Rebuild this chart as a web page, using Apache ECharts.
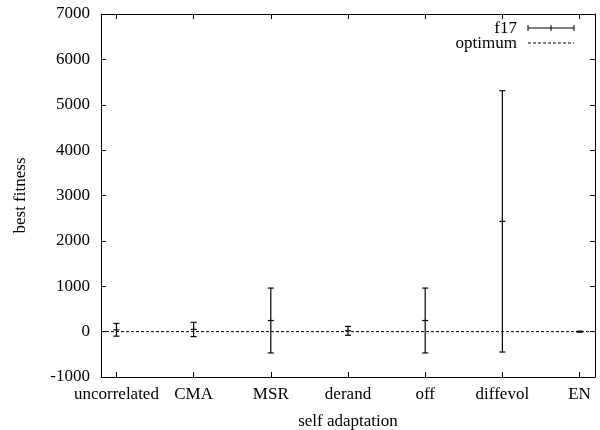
<!DOCTYPE html>
<html>
<head>
<meta charset="utf-8">
<script src="https://cdn.jsdelivr.net/npm/echarts@6/dist/echarts.min.js"></script>
<style>
  html, body { margin: 0; padding: 0; background: #fff; }
  #chart { width: 600px; height: 430px; }
</style>
</head>
<body>
<div id="chart"></div>
<script>
// values
var categories = ['uncorrelated', 'CMA', 'MSR', 'derand', 'off', 'diffevol', 'EN'];
var means = [40, 50, 245, 20, 245, 2430, 0];
var lows = [-100, -110, -470, -80, -470, -450, -10];
var highs = [180, 205, 960, 115, 960, 5310, 10];
var optimum = 0;
var positions = [1, 2, 3, 4, 5, 6, 7];

var font = '"Liberation Serif", "DejaVu Serif", serif';
var fs = 17;

var barData = [];
for (var i = 0; i < categories.length; i++) {
    barData.push([positions[i], lows[i], highs[i], means[i]]);
}

var chart = echarts.init(document.getElementById('chart'));

function errorBar(params, api) {
    var x = api.value(0);
    var lo = api.coord([x, api.value(1)]);
    var hi = api.coord([x, api.value(2)]);
    var mid = api.coord([x, api.value(3)]);
    var w = 3;
    var st = { stroke: '#000', lineWidth: 1.2 };
    return {
        type: 'group',
        children: [
            { type: 'line', shape: { x1: lo[0], y1: lo[1], x2: hi[0], y2: hi[1] }, style: st },
            { type: 'line', shape: { x1: lo[0] - w, y1: lo[1], x2: lo[0] + w, y2: lo[1] }, style: st },
            { type: 'line', shape: { x1: hi[0] - w, y1: hi[1], x2: hi[0] + w, y2: hi[1] }, style: st },
            { type: 'line', shape: { x1: mid[0] - w, y1: mid[1], x2: mid[0] + w, y2: mid[1] }, style: st }
        ]
    };
}

var axisLine = { show: true, onZero: false, lineStyle: { color: '#000', width: 1 } };

chart.setOption({
    animation: false,
    textStyle: { fontFamily: font },
    grid: { left: 101, right: 5, top: 14, bottom: 53, containLabel: false, outerBoundsMode: 'none' },
    xAxis: [{
        type: 'value',
        min: 0.8,
        max: 7.2,
        interval: 0.2,
        name: 'self adaptation',
        nameLocation: 'middle',
        nameGap: 36,
        nameTextStyle: { color: '#000', fontSize: fs, fontFamily: font },
        axisLine: axisLine,
        axisTick: { show: true, inside: true, length: 5, customValues: positions, lineStyle: { color: '#000' } },
        axisLabel: {
            color: '#000', fontSize: fs, fontFamily: font, margin: 9,
            customValues: positions,
            formatter: function (v) { return categories[Math.round(v) - 1] || ''; }
        },
        splitLine: { show: false }
    }, {
        type: 'value',
        position: 'top',
        min: 0.8,
        max: 7.2,
        interval: 0.2,
        axisLine: axisLine,
        axisTick: { show: true, inside: true, length: 5, customValues: positions, lineStyle: { color: '#000' } },
        axisLabel: { show: false },
        splitLine: { show: false }
    }],
    yAxis: [{
        type: 'value',
        min: -1000,
        max: 7000,
        interval: 1000,
        name: 'best fitness',
        nameLocation: 'middle',
        nameGap: 72,
        nameTextStyle: { color: '#000', fontSize: fs, fontFamily: font },
        axisLine: axisLine,
        axisTick: { show: true, inside: true, length: 5, lineStyle: { color: '#000' } },
        axisLabel: {
            color: '#000', fontSize: fs, fontFamily: font, margin: 11,
            formatter: function (v) { return String(v); }
        },
        splitLine: { show: false }
    }, {
        type: 'value',
        position: 'right',
        min: -1000,
        max: 7000,
        interval: 1000,
        axisLine: axisLine,
        axisTick: { show: true, inside: true, length: 5, lineStyle: { color: '#000' } },
        axisLabel: { show: false },
        splitLine: { show: false }
    }],
    graphic: [
        { type: 'text', right: 83, top: 20, style: { text: 'f17', font: fs + 'px ' + font, fill: '#000', textAlign: 'right' } },
        { type: 'line', shape: { x1: 528, y1: 28, x2: 574, y2: 28 }, style: { stroke: '#000', lineWidth: 1 } },
        { type: 'line', shape: { x1: 528, y1: 25, x2: 528, y2: 31 }, style: { stroke: '#000', lineWidth: 1 } },
        { type: 'line', shape: { x1: 574, y1: 25, x2: 574, y2: 31 }, style: { stroke: '#000', lineWidth: 1 } },
        { type: 'line', shape: { x1: 551, y1: 25, x2: 551, y2: 31 }, style: { stroke: '#000', lineWidth: 1 } },
        { type: 'text', right: 83, top: 35, style: { text: 'optimum', font: fs + 'px ' + font, fill: '#000', textAlign: 'right' } },
        { type: 'line', shape: { x1: 528, y1: 43, x2: 574, y2: 43 }, style: { stroke: '#000', lineWidth: 1, lineDash: [3, 2] } }
    ],
    series: [{
        name: 'optimum',
        type: 'line',
        data: [[0.8, optimum], [7.2, optimum]],
        symbol: 'none',
        lineStyle: { color: '#000', width: 1, type: [3, 2] },
        silent: true
    }, {
        name: 'f17',
        type: 'custom',
        renderItem: errorBar,
        data: barData,
        encode: { x: 0, y: [1, 2, 3] },
        z: 3
    }]
});
</script>
</body>
</html>
